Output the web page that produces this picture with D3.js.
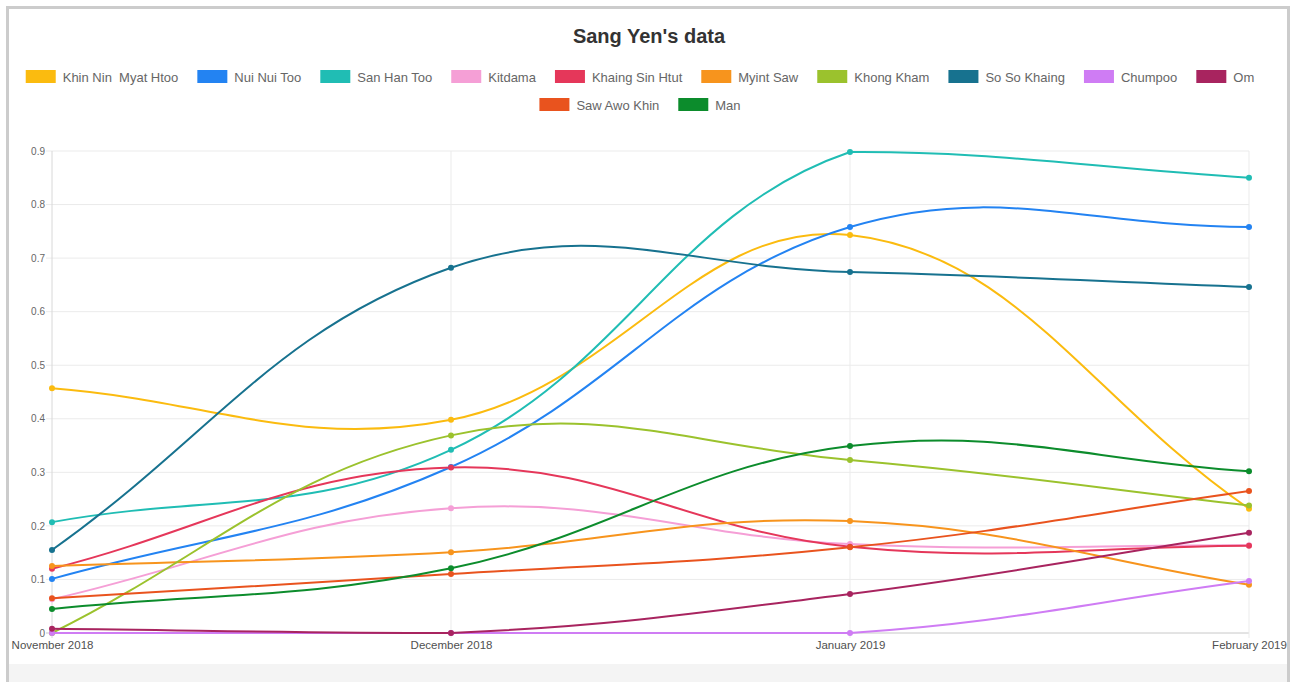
<!DOCTYPE html>
<html>
<head>
<meta charset="utf-8">
<script src="https://cdn.jsdelivr.net/npm/d3@7"></script>
<style>
html,body{margin:0;padding:0;background:#fff;}
svg{display:block;font-family:"Liberation Sans",Arial,sans-serif;}
</style>
</head>
<body>
<svg id="chart" width="1292" height="682"></svg>
<script>
const months = ["November 2018", "December 2018", "January 2019", "February 2019"];
const yTicks = [0, 0.1, 0.2, 0.3, 0.4, 0.5, 0.6, 0.7, 0.8, 0.9];
const seriesNames = ["Khin Nin  Myat Htoo", "Nui Nui Too", "San Han Too", "Kitdama", "Khaing Sin Htut", "Myint Saw", "Khong Kham", "So So Khaing", "Chumpoo", "Om", "Saw Awo Khin", "Man"];
const seriesColors = ["#fbbb0f", "#2383f2", "#20bdb4", "#f59fd6", "#e5375a", "#f7941d", "#9bc22d", "#17728f", "#cf7cf4", "#a8245f", "#e9531e", "#0c8c2c"];
const khinNin = [0.457, 0.398, 0.743, 0.232];
const nuiNui = [0.101, 0.310, 0.758, 0.758];
const sanHan = [0.207, 0.342, 0.898, 0.850];
const kitdama = [0.063, 0.233, 0.166, 0.164];
const khaingSin = [0.120, 0.309, 0.161, 0.163];
const myintSaw = [0.125, 0.151, 0.209, 0.090];
const khongKham = [0.000, 0.369, 0.323, 0.238];
const soSo = [0.155, 0.682, 0.674, 0.646];
const chumpoo = [0.000, 0.000, 0.000, 0.097];
const om = [0.008, 0.000, 0.073, 0.187];
const sawAwo = [0.065, 0.110, 0.160, 0.265];
const man = [0.045, 0.121, 0.349, 0.302];
const seriesValues = [khinNin, nuiNui, sanHan, kitdama, khaingSin, myintSaw, khongKham, soSo, chumpoo, om, sawAwo, man];

const svg = d3.select("#chart");

// frame
svg.append("rect").attr("x", 0).attr("y", 0).attr("width", 1292).attr("height", 682).attr("fill", "#fff");
svg.append("rect").attr("x", 9).attr("y", 664).attr("width", 1278).attr("height", 18).attr("fill", "#f4f4f4");
svg.append("rect").attr("x", 6).attr("y", 6).attr("width", 3).attr("height", 676).attr("fill", "#cccccc");
svg.append("rect").attr("x", 6).attr("y", 6).attr("width", 1284).attr("height", 3).attr("fill", "#cccccc");
svg.append("rect").attr("x", 1287).attr("y", 6).attr("width", 3).attr("height", 676).attr("fill", "#cccccc");

const x = d3.scalePoint().domain(months).range([52, 1249]);
const y = d3.scaleLinear().domain([0, 0.9]).range([633, 151]);

// title
svg.append("text").attr("x", 649).attr("y", 43).attr("text-anchor", "middle")
  .attr("font-size", 20).attr("font-weight", "bold").attr("fill", "#333").text("Sang Yen's data");

// legend
const legendFont = 13;
const boxW = 30, boxH = 13, boxGap = 7, itemGap = 19;
const measure = svg.append("text").attr("font-size", legendFont).attr("visibility", "hidden").style("white-space", "pre");
function tw(s) { measure.text(s); return measure.node().getComputedTextLength(); }
const items = seriesNames.map((n, i) => ({name: n, color: seriesColors[i], w: boxW + boxGap + tw(n)}));
measure.remove();
const rows = [items.slice(0, 10), items.slice(10)];
const rowY = [77, 105];
const legendCenter = 640;
const lg = svg.append("g");
rows.forEach((row, ri) => {
  const total = d3.sum(row, d => d.w) + itemGap * (row.length - 1);
  let cx = legendCenter - total / 2;
  row.forEach(it => {
    lg.append("rect").attr("x", cx).attr("y", rowY[ri] - 7).attr("width", boxW).attr("height", boxH)
      .attr("fill", it.color);
    lg.append("text").attr("x", cx + boxW + boxGap).attr("y", rowY[ri] + 4.5)
      .attr("font-size", legendFont).attr("fill", "#666").style("white-space", "pre").text(it.name);
    cx += it.w + itemGap;
  });
});

// gridlines
const grid = svg.append("g");
grid.selectAll("line.h").data(yTicks).enter().append("line")
  .attr("x1", 46).attr("x2", 1249).attr("y1", d => y(d)).attr("y2", d => y(d))
  .attr("stroke", d => d === 0 ? "#c8c8c8" : "#ebebeb").attr("stroke-width", 1);
grid.selectAll("line.v").data(months).enter().append("line")
  .attr("x1", d => x(d)).attr("x2", d => x(d)).attr("y1", 151).attr("y2", 638)
  .attr("stroke", (d, i) => i === 0 ? "#d8d8d8" : "#ebebeb").attr("stroke-width", 1);

// axes labels
const yAxis = d3.axisLeft(y).tickValues(yTicks).tickFormat(d => d === 0 ? "0" : d3.format(".1f")(d)).tickSize(0).tickPadding(7);
const ya = svg.append("g").attr("transform", "translate(52,0)").call(yAxis);
ya.select(".domain").remove();
ya.selectAll("text").attr("font-size", 10).attr("fill", "#666").attr("font-family", "Liberation Sans, Arial, sans-serif");

const xAxis = d3.axisBottom(x).tickSize(0).tickPadding(8);
const xa = svg.append("g").attr("transform", "translate(0,633)").call(xAxis);
xa.select(".domain").remove();
xa.selectAll("text").attr("font-size", 11.5).attr("fill", "#505050").attr("font-family", "Liberation Sans, Arial, sans-serif");

// Chart.js-style spline curve (tension 0.4, control points capped to chart area)
const area = {left: 52, right: 1249, top: 151, bottom: 633};
function chartSpline(context) {
  let pts;
  return {
    areaStart() {}, areaEnd() {},
    lineStart() { pts = []; },
    point(px, py) { pts.push([+px, +py]); },
    lineEnd() {
      const n = pts.length, t = 0.4;
      if (!n) return;
      const cp = pts.map((c, i) => {
        const p = pts[Math.max(0, i - 1)], nx = pts[Math.min(n - 1, i + 1)];
        const d01 = Math.hypot(c[0] - p[0], c[1] - p[1]);
        const d12 = Math.hypot(nx[0] - c[0], nx[1] - c[1]);
        let s01 = d01 / (d01 + d12), s12 = d12 / (d01 + d12);
        if (isNaN(s01)) s01 = 0; if (isNaN(s12)) s12 = 0;
        const fa = t * s01, fb = t * s12;
        const cap = (q) => [Math.max(area.left, Math.min(area.right, q[0])), Math.max(area.top, Math.min(area.bottom, q[1]))];
        return {
          prev: cap([c[0] - fa * (nx[0] - p[0]), c[1] - fa * (nx[1] - p[1])]),
          next: cap([c[0] + fb * (nx[0] - p[0]), c[1] + fb * (nx[1] - p[1])])
        };
      });
      context.moveTo(pts[0][0], pts[0][1]);
      for (let i = 1; i < n; i++) {
        context.bezierCurveTo(cp[i - 1].next[0], cp[i - 1].next[1], cp[i].prev[0], cp[i].prev[1], pts[i][0], pts[i][1]);
      }
    }
  };
}

// lines
const line = d3.line().x((d, i) => x(months[i])).y(d => y(d)).curve(chartSpline);
const lines = svg.append("g");
seriesValues.forEach((vals, si) => {
  lines.append("path").datum(vals).attr("d", line).attr("fill", "none")
    .attr("stroke", seriesColors[si]).attr("stroke-width", 2);
});
seriesValues.forEach((vals, si) => {
  lines.selectAll(null).data(vals).enter().append("circle")
    .attr("cx", (d, i) => x(months[i])).attr("cy", d => y(d)).attr("r", 3)
    .attr("fill", seriesColors[si]);
});
</script>
</body>
</html>
